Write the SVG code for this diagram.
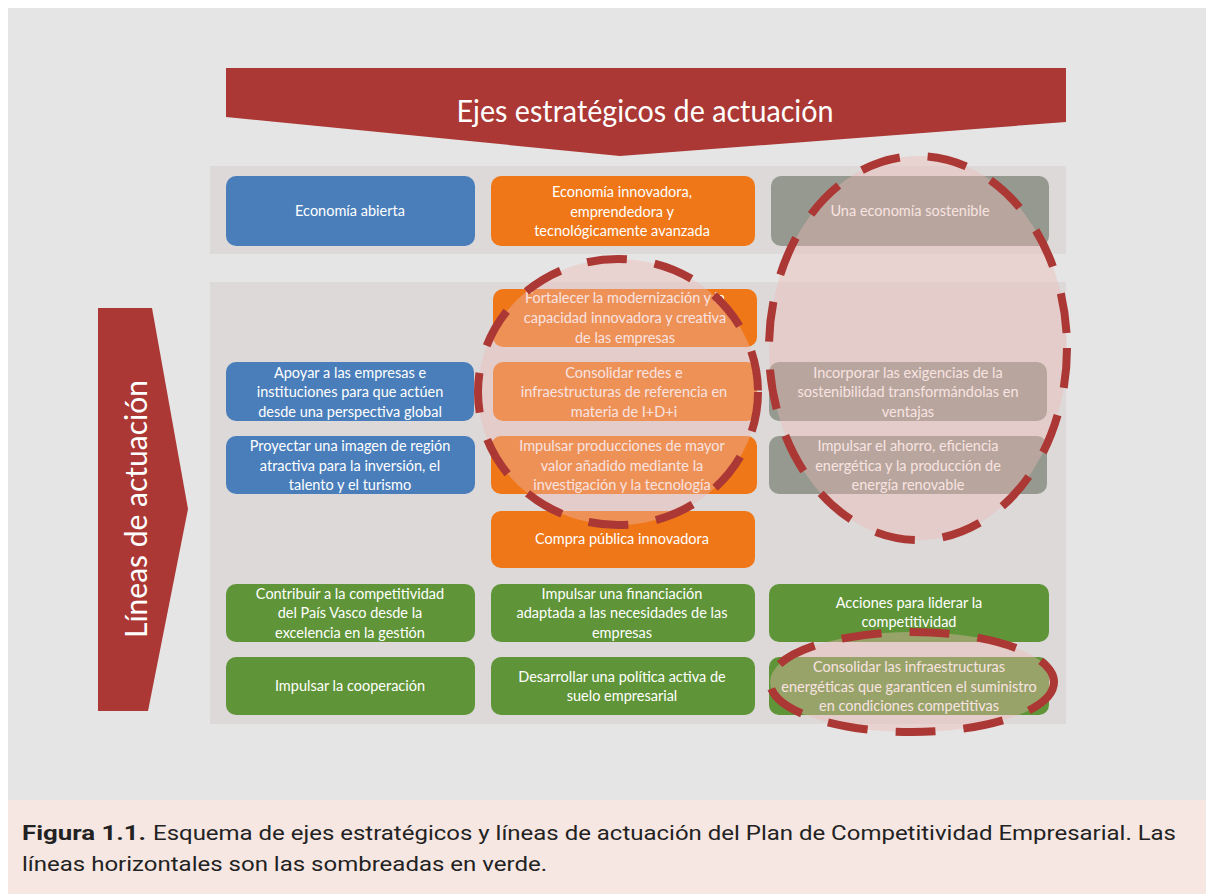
<svg xmlns="http://www.w3.org/2000/svg" width="1206" height="894" viewBox="0 0 1206 894">
<style>
.t{font-family:Lato,"Open Sans",sans-serif;font-size:14.5px;fill:#ffffff;text-anchor:middle}
.blue{fill:#4a7ebb}
.orange{fill:#ef7718}
.grey{fill:#95998f}
.green{fill:#5f9538}
.ell{fill:#eeb8b4;fill-opacity:0.4;stroke:#ab3834;stroke-width:8;stroke-dasharray:40 28}
.cap{font-family:Roboto,"Liberation Sans",sans-serif;font-size:19.5px;fill:#222222}
</style>
<rect x="0" y="0" width="1206" height="894" fill="#ffffff"/>
<rect x="8" y="8" width="1198" height="792" fill="#e5e5e5"/>
<rect x="8" y="800" width="1198" height="94" fill="#f6e7e3"/>
<rect x="210" y="166" width="856" height="88" fill="#dcd9d8"/>
<rect x="210" y="282" width="856" height="442" fill="#dcd9d8"/>

<g id="banner-top">
<polygon points="226,68 1066,68 1066,122 620,156 226,117" fill="#ab3834"/>
<text x="645" y="122" font-family="Lato,'Open Sans',sans-serif" font-size="30" fill="#ffffff" text-anchor="middle" textLength="377" lengthAdjust="spacingAndGlyphs">Ejes estratégicos de actuación</text>
</g>
<g id="banner-left">
<polygon points="98,308 152,308 188,509 148,711 98,711" fill="#ab3834"/>
<text transform="translate(147,509) rotate(-90)" x="0" y="0" font-family="Lato,'Open Sans',sans-serif" font-size="30" fill="#ffffff" text-anchor="middle" textLength="258" lengthAdjust="spacingAndGlyphs">Líneas de actuación</text>
</g>

<g id="n-eco-abierta"><rect class="blue" x="226" y="176" width="249" height="70" rx="10"/><text class="t" x="350" y="216">Economía abierta</text></g>
<g id="n-eco-innov"><rect class="orange" x="491" y="176" width="264" height="70" rx="10"/><text class="t" x="622" y="197">Economía innovadora,</text><text class="t" x="622" y="217">emprendedora y</text><text class="t" x="622" y="236">tecnológicamente avanzada</text></g>
<g id="n-eco-sost"><rect class="grey" x="771" y="176" width="278" height="70" rx="10"/><text class="t" x="910" y="216">Una economía sostenible</text></g>

<g id="n-fortalecer"><rect class="orange" x="493" y="289" width="264" height="58" rx="10"/><text class="t" x="625" y="303">Fortalecer la modernización y la</text><text class="t" x="625" y="323">capacidad innovadora y creativa</text><text class="t" x="625" y="343">de las empresas</text></g>

<g id="n-apoyar"><rect class="blue" x="226" y="362" width="248" height="59" rx="10"/><text class="t" x="350" y="378">Apoyar a las empresas e</text><text class="t" x="350" y="397">instituciones  para que actúen</text><text class="t" x="350" y="417">desde una perspectiva global</text></g>
<g id="n-consolidar-redes"><rect class="orange" x="493" y="362" width="264" height="59" rx="10"/><text class="t" x="624" y="378">Consolidar redes e</text><text class="t" x="624" y="397">infraestructuras de referencia en</text><text class="t" x="624" y="417">materia de I+D+i</text></g>
<g id="n-incorporar"><rect class="grey" x="769" y="362" width="278" height="59" rx="10"/><text class="t" x="908" y="378">Incorporar las exigencias de la</text><text class="t" x="908" y="397">sostenibilidad transformándolas en</text><text class="t" x="908" y="417">ventajas</text></g>

<g id="n-proyectar"><rect class="blue" x="226" y="436" width="249" height="58" rx="10"/><text class="t" x="350" y="451">Proyectar una imagen de región</text><text class="t" x="350" y="471">atractiva para la inversión, el</text><text class="t" x="350" y="490">talento y el turismo</text></g>
<g id="n-impulsar-prod"><rect class="orange" x="491" y="436" width="266" height="58" rx="10"/><text class="t" x="622" y="451">Impulsar producciones de mayor</text><text class="t" x="622" y="471">valor añadido mediante la</text><text class="t" x="622" y="490">investigación y la tecnología</text></g>
<g id="n-impulsar-ahorro"><rect class="grey" x="769" y="436" width="278" height="58" rx="10"/><text class="t" x="908" y="451">Impulsar el ahorro, eficiencia</text><text class="t" x="908" y="471">energética y la producción de</text><text class="t" x="908" y="490">energía renovable</text></g>

<g id="n-compra"><rect class="orange" x="491" y="511" width="264" height="57" rx="10"/><text class="t" x="622" y="544">Compra pública innovadora</text></g>

<g id="n-contribuir"><rect class="green" x="226" y="584" width="249" height="58" rx="10"/><text class="t" x="350" y="599">Contribuir a la competitividad</text><text class="t" x="350" y="618">del País Vasco desde la</text><text class="t" x="350" y="638">excelencia en la gestión</text></g>
<g id="n-financiacion"><rect class="green" x="491" y="584" width="264" height="58" rx="10"/><text class="t" x="622" y="599">Impulsar una financiación</text><text class="t" x="622" y="618">adaptada a las necesidades de las</text><text class="t" x="622" y="638">empresas</text></g>
<g id="n-acciones"><rect class="green" x="769" y="584" width="280" height="58" rx="10"/><text class="t" x="909" y="608">Acciones para liderar la</text><text class="t" x="909" y="627">competitividad</text></g>

<g id="n-cooperacion"><rect class="green" x="226" y="657" width="249" height="58" rx="10"/><text class="t" x="350" y="691">Impulsar la cooperación</text></g>
<g id="n-suelo"><rect class="green" x="491" y="657" width="264" height="58" rx="10"/><text class="t" x="622" y="682">Desarrollar una política activa de</text><text class="t" x="622" y="701">suelo empresarial</text></g>
<g id="n-infra-energ"><rect class="green" x="769" y="657" width="280" height="58" rx="10"/><text class="t" x="909" y="672">Consolidar las infraestructuras</text><text class="t" x="909" y="692">energéticas que garanticen el suministro</text><text class="t" x="909" y="711">en condiciones competitivas</text></g>

<g id="highlights">
<ellipse class="ell" cx="618" cy="392" rx="140" ry="133"/>
<ellipse class="ell" cx="918" cy="348" rx="149" ry="192"/>
<ellipse class="ell" cx="912" cy="682" rx="142" ry="50"/>
</g>

<g id="caption">
<text class="cap" x="22" y="840" font-weight="bold" textLength="124" lengthAdjust="spacingAndGlyphs">Figura 1.1.</text>
<text class="cap" x="153" y="840" textLength="1023" lengthAdjust="spacingAndGlyphs">Esquema de ejes estratégicos y líneas de actuación del Plan de Competitividad Empresarial. Las</text>
<text class="cap" x="22" y="871" textLength="525" lengthAdjust="spacingAndGlyphs">líneas horizontales son las sombreadas en verde.</text>
</g>
</svg>
